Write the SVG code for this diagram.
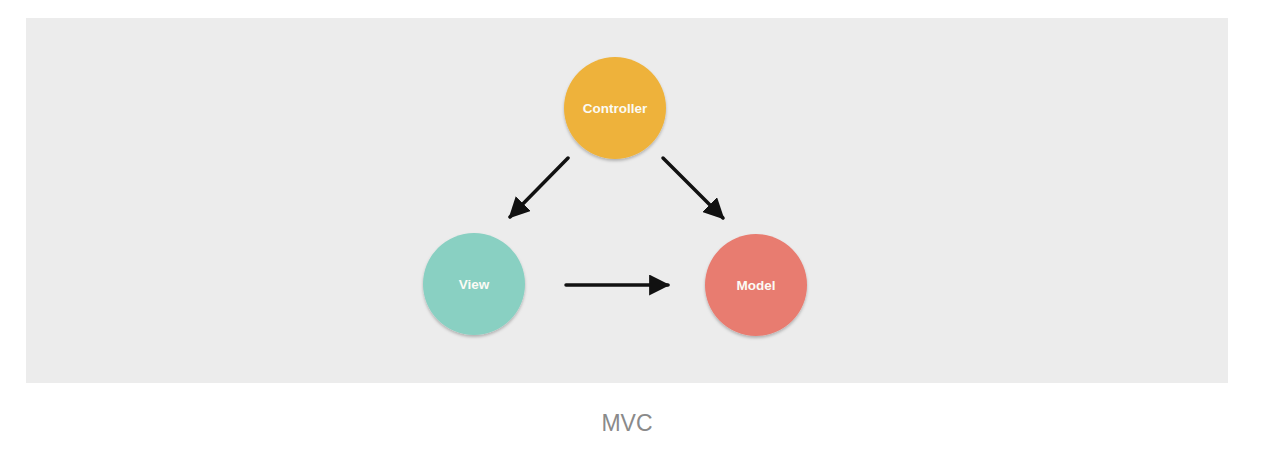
<svg xmlns="http://www.w3.org/2000/svg" width="1268" height="456" viewBox="0 0 1268 456">
<style>
.lbl{font-family:"Liberation Sans",Arial,sans-serif;font-size:13.5px;font-weight:bold;fill:#fbfbf5;text-anchor:middle}
.cap{font-family:"Liberation Sans",Arial,sans-serif;font-size:23px;fill:#8a8a8a;text-anchor:middle}
.conn{stroke:#111;stroke-width:3.5;fill:none;stroke-linecap:round}
</style>
<defs>
<marker id="ah2" viewBox="0 0 10 10" refX="9" refY="5" markerWidth="6" markerHeight="6" orient="auto">
<path d="M0,0 L10,5 L0,10 z" fill="#111"/>
</marker>
<filter id="sh" x="-20%" y="-20%" width="140%" height="150%">
<feDropShadow dx="0" dy="2" stdDeviation="1.5" flood-color="#000" flood-opacity="0.25"/>
</filter>
</defs>
<rect x="26" y="18" width="1202" height="365" fill="#ececec"/>
<g id="connectors">
<path class="conn" d="M568,158 L510,217" marker-end="url(#ah2)"/>
<path class="conn" d="M663,158 L723,218" marker-end="url(#ah2)"/>
<path class="conn" d="M566,285 L668,285" marker-end="url(#ah2)"/>
</g>
<g id="controller">
<circle cx="615" cy="108" r="51" fill="#eeb23b" filter="url(#sh)"/>
<text class="lbl" x="615" y="113">Controller</text>
</g>
<g id="view">
<circle cx="474" cy="284" r="51" fill="#89d0c2" filter="url(#sh)"/>
<text class="lbl" x="474" y="289">View</text>
</g>
<g id="model">
<circle cx="756" cy="285" r="51" fill="#e87b70" filter="url(#sh)"/>
<text class="lbl" x="756" y="290">Model</text>
</g>
<text class="cap" x="627" y="431">MVC</text>
</svg>
